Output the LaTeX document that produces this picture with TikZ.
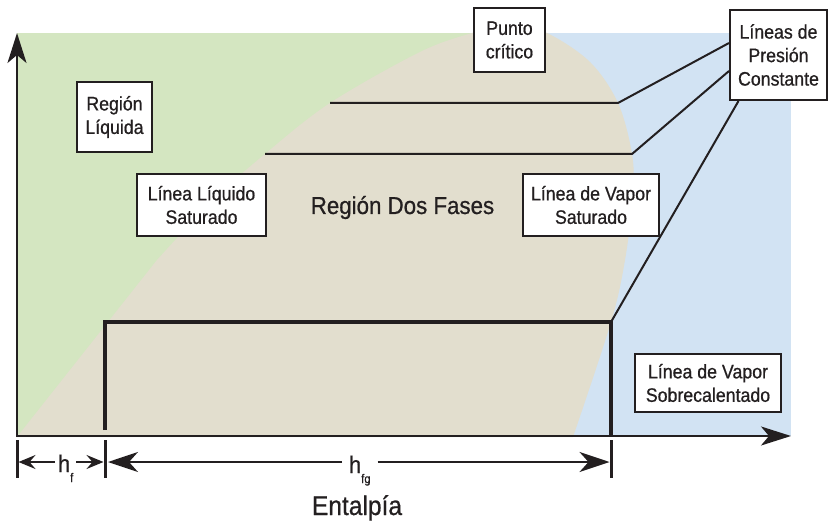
\documentclass[tikz,border=0pt]{standalone}
\usepackage{fontspec}
\setmainfont{Liberation Sans}[FakeStretch=0.91,FakeBold=0.7]
\usetikzlibrary{arrows.meta}
\definecolor{liq}{RGB}{212,230,193}
\definecolor{two}{RGB}{226,222,206}
\definecolor{vap}{RGB}{210,227,243}
\definecolor{ink}{RGB}{35,31,32}
\begin{document}
\begin{tikzpicture}[x=1pt,y=-1pt,
  lbl/.style={draw=ink, line width=2pt, fill=white, inner sep=0pt, align=center, text=ink,
    font=\fontsize{19.5}{23.5}\selectfont},
  thinline/.style={draw=ink, line width=2pt},
  thickline/.style={draw=ink, line width=4.5pt, line join=miter},
  axis/.style={draw=ink, line width=2pt, -{Stealth[length=30pt,width=19pt,inset=8pt]}},
  tickmark/.style={draw=ink, line width=3pt},
  dimsmall/.style={draw=ink, line width=1.8pt, -{Stealth[length=17pt,width=14pt,inset=6pt]}},
  dimbig/.style={draw=ink, line width=1.8pt, -{Stealth[length=30pt,width=20pt,inset=9pt]}},
  hlabel/.style={text=ink, inner sep=0pt, font=\fontsize{24}{24}\selectfont}
]
\useasboundingbox (0,0) rectangle (829,521);
% regions
\fill[liq] (17,33) rectangle (520,436);
\fill[vap] (520,33) rectangle (791,436);
\begin{scope}
\clip (17,33) rectangle (791,437);
\fill[two] (17,437) -- plot[smooth, tension=0.55] coordinates {(157,260) (213,200) (265,154) (330,103) (420,52) (472,33) (510,24) (547,33) (590,62) (618,103) (632,154) (633,195) (625,260) (611,322) (573,437)} -- cycle;
\end{scope}

% labels
\node[lbl, minimum width=75pt, minimum height=70pt] (rl) at (114.5,117) {Región\\Líquida};
\node[lbl, minimum width=129pt, minimum height=62pt] (lls) at (201.5,205) {Línea Líquido\\Saturado};
\node[lbl, minimum width=71pt, minimum height=64pt] (pc) at (509.5,40) {Punto\\crítico};
\node[lbl, minimum width=97pt, minimum height=90pt] (lpc) at (778.5,55) {Líneas de\\Presión\\Constante};
\node[lbl, minimum width=136pt, minimum height=62pt] (lvs) at (591,205) {Línea de Vapor\\Saturado};
\node[lbl, minimum width=146pt, minimum height=58pt] (lvso) at (708,383) {Línea de Vapor\\Sobrecalentado};
\node[text=ink, inner sep=0pt, anchor=base, font=\fontsize{24.5}{24.5}\selectfont] (rdf) at (402.5,214) {Región Dos Fases};

% constant pressure lines
\coordinate (a1) at (330,103);
\coordinate (b1) at (618,103);
\coordinate (a2) at (265,154);
\coordinate (b2) at (632,154);
\draw[thinline] (a1) -- (b1) -- ([yshift=12pt]lpc.west);
\draw[thinline] (a2) -- (b2) -- ([yshift=-16pt]lpc.west);

% process line
\coordinate (p0) at (105,430);
\coordinate (p1) at (105,322);
\coordinate (p2) at (611,322);
\coordinate (p3) at (611,436);
\draw[thickline] (p0) -- (p1) -- (p2) -- (p3);
\draw[thinline] (p2) -- ([xshift=-40pt]lpc.south);

% axes
\coordinate (o) at (17,436);
\coordinate (ytop) at (17,33);
\coordinate (xend) at (791,436);
\draw[axis] ([yshift=-1pt]o) -- (ytop);
\draw[axis] ([xshift=-1pt]o) -- (xend);

% dimensions
\coordinate (t0) at (17,462);
\coordinate (t1) at (105,462);
\coordinate (t2) at (611,462);
\foreach \t in {t0,t1,t2}
  \draw[tickmark] ([yshift=22pt]\t) -- ([yshift=-16pt]\t);
\node[hlabel, anchor=base west, outer sep=3pt] (hf) at (55,472) {h\raisebox{-10pt}{\fontsize{12.5}{12.5}\selectfont f}};
\node[hlabel, anchor=base west, outer sep=7pt] (hfg) at (342,473) {h\raisebox{-10pt}{\fontsize{12.5}{12.5}\selectfont fg}};
\draw[dimsmall, shorten >=1.5pt] (hf.west |- t0) -- (t0);
\draw[dimsmall, shorten >=1.5pt] (hf.east |- t1) -- (t1);
\draw[dimbig, shorten >=3pt] (hfg.west |- t1) -- (t1);
\draw[dimbig, shorten >=1.5pt] (hfg.east |- t2) -- (t2);

\node[text=ink, inner sep=0pt, anchor=base, font=\fontsize{27}{27}\selectfont] (ent) at (357,515) {Entalpía};
\end{tikzpicture}
\end{document}
